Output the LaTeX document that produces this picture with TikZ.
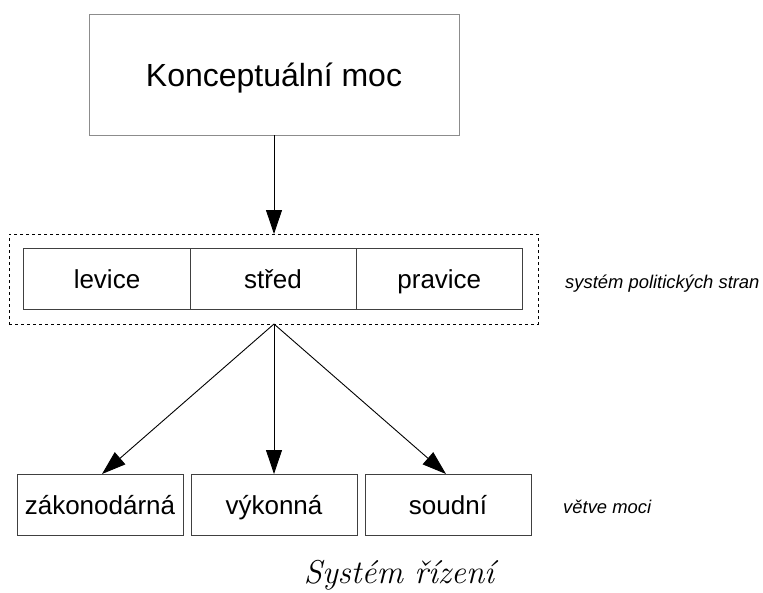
\documentclass[tikz,border=0pt]{standalone}
\usepackage{fontspec}
\setmainfont{Liberation Sans}
\newfontfamily\lmfont{Latin Modern Roman}
\usetikzlibrary{arrows.meta}
\begin{document}
\begin{tikzpicture}[x=1pt,y=-1pt,
  box/.style={draw=black!75, line width=0.9pt, minimum width=166pt, minimum height=61pt, inner sep=0pt, text height=19.5pt, text depth=0pt, font=\fontsize{26}{30}\selectfont},
  arr/.style={line width=0.9pt, -{Triangle[length=24pt,width=16pt]}},
  side/.style={anchor=west, inner sep=0pt, font=\fontsize{18.4}{22}\selectfont\itshape}]
\useasboundingbox[fill=white] (0,0) rectangle (763,592);
\node[draw=black!45, line width=0.9pt, minimum width=370pt, minimum height=121pt, inner sep=0pt, text height=23pt, text depth=0pt, font=\fontsize{32}{36}\selectfont] (k) at (274,74.5) {Konceptuální moc};
\node[draw=black, dashed, line width=0.8pt, minimum width=529pt, minimum height=90pt, inner sep=0pt] (ps) at (273.5,279) {};
\node[box, minimum width=166.5pt] (l) at (107,278.5) {levice};
\node[box] (s) at (273,278.5) {střed};
\node[box, minimum width=166.5pt] (p) at (439.3,278.5) {pravice};
\node[side] (sl) at (565,284) {systém politických stran};
\node[box] (z) at (100,504.5) {zákonodárná};
\node[box] (v) at (274,504.5) {výkonná};
\node[box] (so) at (448,504.5) {soudní};
\node[side] (vl) at (563,507) {větve moci};
\node[anchor=base, inner sep=0pt, font=\lmfont\fontsize{33}{38}\selectfont\itshape] (t) at (399,583) {Systém řízení};
\coordinate (top) at (274,234);
\coordinate (bot) at (274,324);
\coordinate (zt) at (102,474);
\coordinate (vt) at (274,474);
\coordinate (st) at (446,474);
\draw[arr] (k.south -| top) -- (top);
\draw[arr] (bot) -- (zt);
\draw[arr] (bot) -- (vt);
\draw[arr] (bot) -- (st);
\end{tikzpicture}
\end{document}
